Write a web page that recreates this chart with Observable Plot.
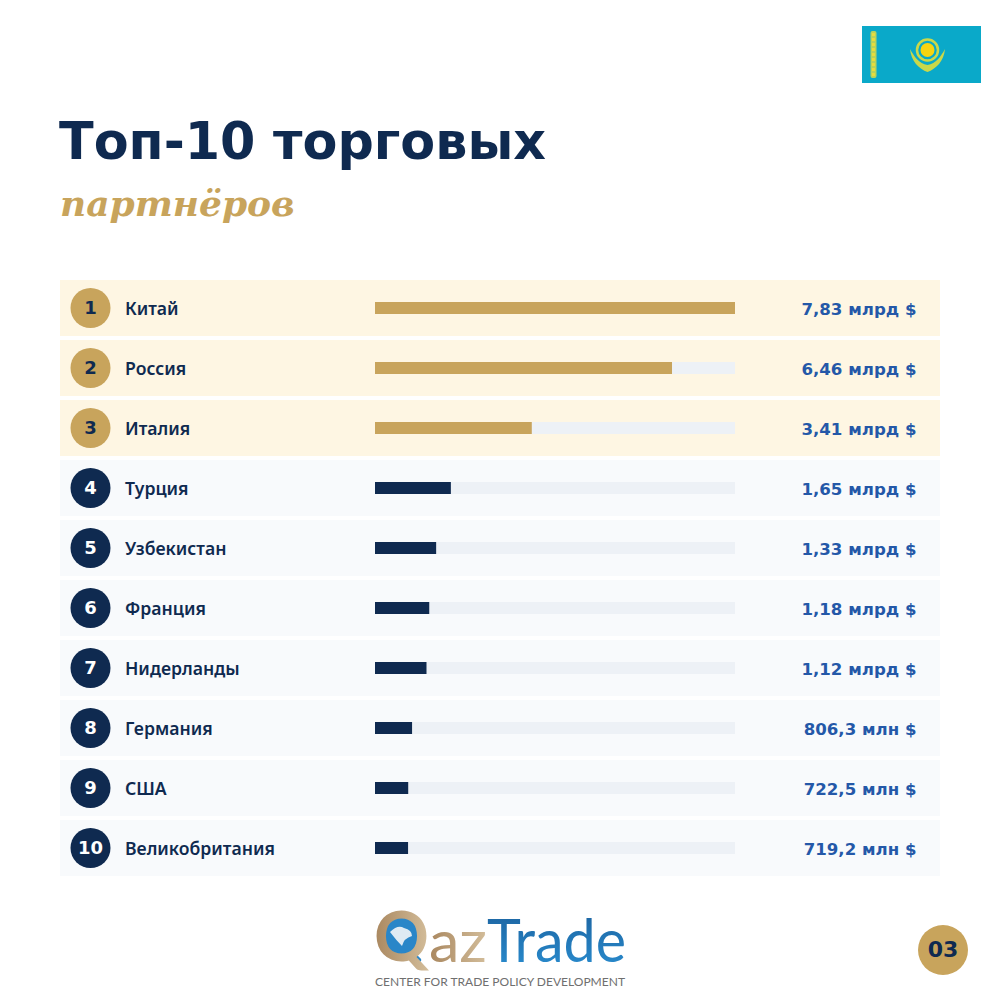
<!DOCTYPE html>
<html lang="ru">
<head>
<meta charset="utf-8">
<script src="https://cdn.jsdelivr.net/npm/d3@7"></script>
<script src="https://cdn.jsdelivr.net/npm/@observablehq/plot@0.6"></script>
<style>
html,body{margin:0;padding:0;background:#fff}
#page{position:relative;width:1000px;height:1000px;overflow:hidden}
#flag{position:absolute;left:862px;top:26px;width:119px;height:57px}
#title{position:absolute;left:59px;top:112px;font:bold 50.8px "DejaVu Sans";color:#0f2a50;white-space:nowrap}
#subtitle{position:absolute;left:60px;top:182px;font:italic bold 36px "DejaVu Serif";color:#c8a45c;white-space:nowrap}
#chart{position:absolute;left:0;top:270px}
#logo{position:absolute;left:360px;top:900px;width:290px;height:100px;overflow:visible}
#pagenum{position:absolute;left:918px;top:925px;width:50px;height:50px;border-radius:50%;background:#c8a45c;color:#0f2a50;font:bold 22px "DejaVu Sans";line-height:50px;text-align:center}
</style>
</head>
<body>
<div id="page">
  <svg id="flag" viewBox="0 0 119 57" aria-label="Флаг Казахстана">
    <rect width="119" height="57" fill="#0aa9c9"/>
    <rect x="8.500" y="5" width="6" height="47" rx="2" fill="#b9d35a"/>
    <line x1="11.500" x2="11.500" y1="7" y2="50" stroke="#e8dc3c" stroke-width="3" stroke-dasharray="3 2"/>
    <circle cx="65.500" cy="24" r="10.500" fill="none" stroke="#c9d84a" stroke-width="2.500"/>
    <circle cx="65.500" cy="24" r="7" fill="#f8d40f"/>
    <path d="M48 23 C49 35 57 43 65.500 46 C74 43 82 35 83 23 C79 30 74 38 65.500 39 C57 38 52 30 48 23Z" fill="#c9d84a"/>
  </svg>
  <div id="title">Топ-10 торговых</div>
  <div id="subtitle">партнёров</div>
  <div id="chart"></div>
  <svg id="logo" viewBox="0 0 290 100">
    <defs>
      <linearGradient id="gold" x1="0" x2="1" y1="0" y2="0"><stop offset="0" stop-color="#a9875f"/><stop offset="1" stop-color="#d3bd9a"/></linearGradient>
      <linearGradient id="blue" x1="0" x2="0" y1="0" y2="1"><stop offset="0" stop-color="#1b5f9b"/><stop offset="1" stop-color="#2a8fd2"/></linearGradient>
    </defs>
    <circle cx="41" cy="37" r="20" fill="#2a86c8"/>
    <path d="M30 32 q8 -8 14 -4 q8 2 8 8 q-8 2 -10 10 q-6 -6 -12 -14Z" fill="#dfeaf3"/>
    <line x1="46" y1="47" x2="59" y2="60" stroke="#2a86c8" stroke-width="4.500" stroke-linecap="round"/>
    <text x="14" y="61" font-family="Lato" font-weight="700" font-size="68" fill="url(#gold)">Q</text>
    <text x="69" y="62" font-family="Lato" font-size="58" fill="url(#gold)" textLength="58" lengthAdjust="spacingAndGlyphs">az</text>
    <text x="127" y="62" font-family="Lato" font-size="60" fill="url(#blue)" textLength="139" lengthAdjust="spacingAndGlyphs">Trade</text>
    <text x="15" y="86" font-family="Lato" font-size="12" fill="#6f6f6f" textLength="250" lengthAdjust="spacingAndGlyphs">CENTER FOR TRADE POLICY DEVELOPMENT</text>
  </svg>
  <div id="pagenum">03</div>
</div>
<script>
const ranks = [1, 2, 3, 4, 5, 6, 7, 8, 9, 10];
const countries = ["Китай", "Россия", "Италия", "Турция", "Узбекистан", "Франция", "Нидерланды", "Германия", "США", "Великобритания"];
const valuesBn = [7.83, 6.46, 3.41, 1.65, 1.33, 1.18, 1.12, 0.8063, 0.7225, 0.7192];
const valueLabels = ["7,83 млрд $", "6,46 млрд $", "3,41 млрд $", "1,65 млрд $", "1,33 млрд $", "1,18 млрд $", "1,12 млрд $", "806,3 млн $", "722,5 млн $", "719,2 млн $"];

const maxValue = d3.max(valuesBn);
const rows = ranks.map((rank, i) => ({
  rank, country: countries[i], value: valuesBn[i], label: valueLabels[i],
  top: rank <= 3, start: 0, full: maxValue
}));
const navy = "#0f2a50", gold = "#c8a45c";

const chart = Plot.plot({
  width: 1000, height: 620,
  marginTop: 10, marginBottom: 14, marginLeft: 375, marginRight: 265,
  x: {domain: [0, maxValue], axis: null},
  y: {domain: ranks, axis: null, paddingInner: 0.0667, paddingOuter: 0, round: false},
  style: {background: "transparent"},
  marks: [
    Plot.barX(rows, {x1: "start", x2: "full", y: "rank", insetLeft: -315, insetRight: -205,
      fill: d => d.top ? "#fef6e3" : "#f8fafc"}),
    Plot.barX(rows, {x1: "start", x2: "full", y: "rank", insetTop: 22, insetBottom: 22, fill: "#edf1f6"}),
    Plot.barX(rows, {x1: "start", x2: "value", y: "rank", insetTop: 22, insetBottom: 22,
      fill: d => d.top ? gold : navy}),
    Plot.dot(rows, {x: "start", y: "rank", dx: -285, dy: -0.5, r: 20, fill: d => d.top ? gold : navy}),
    Plot.text(rows, {x: "start", y: "rank", dx: -285, text: d => String(d.rank),
      fill: d => d.top ? navy : "#fff", fontFamily: "DejaVu Sans", fontWeight: "bold", fontSize: 18}),
    Plot.text(rows, {x: "start", y: "rank", dx: -250.5, dy: 1, text: "country", textAnchor: "start",
      fill: navy, fontFamily: "Noto Sans", fontWeight: 600, fontSize: 17.6}),
    Plot.text(rows, {x: "full", y: "rank", dx: 181, dy: 1, text: "label", textAnchor: "end",
      fill: "#2458a8", fontFamily: "DejaVu Sans", fontWeight: "bold", fontSize: 16.6})
  ]
});
document.getElementById("chart").appendChild(chart);
</script>
</body>
</html>
